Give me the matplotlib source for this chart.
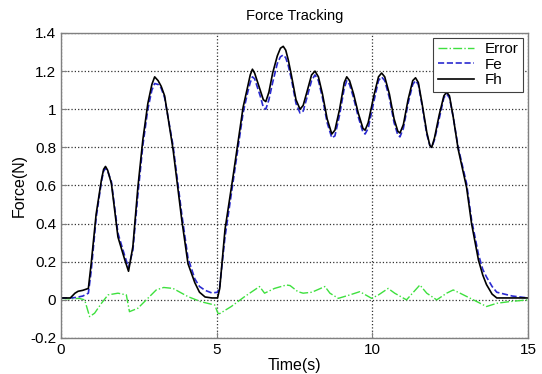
import numpy as np
import matplotlib
matplotlib.use('Agg')
import matplotlib.pyplot as plt
from matplotlib.ticker import FuncFormatter

#Data
t_f = [0, 0.3, 0.45, 0.55, 0.7, 0.88, 0.97, 1.13, 1.3, 1.37,
       1.43, 1.5, 1.62, 1.83, 2.05, 2.17, 2.31, 2.47, 2.63, 2.79,
       2.92, 3.01, 3.12, 3.22, 3.33, 3.6, 3.88, 4.08, 4.3, 4.45,
       4.63, 4.85, 5.03, 5.1, 5.27, 5.53, 5.85, 6.0, 6.08, 6.15,
       6.22, 6.3, 6.4, 6.5, 6.58, 6.68, 6.8, 6.95, 7.05, 7.14,
       7.22, 7.3, 7.4, 7.55, 7.68, 7.78, 7.9, 8.05, 8.16, 8.27,
       8.4, 8.55, 8.7, 8.8, 8.95, 9.1, 9.18, 9.27, 9.4, 9.55,
       9.7, 9.77, 9.87, 10.05, 10.2, 10.3, 10.4, 10.55, 10.7, 10.82,
       10.89, 11.0, 11.15, 11.3, 11.39, 11.48, 11.6, 11.75, 11.85, 11.91,
       12.0, 12.15, 12.3, 12.39, 12.48, 12.6, 12.76, 13.03, 13.19, 13.41,
       13.55, 13.67, 13.85, 14.0, 14.5, 15.0]
fh = [0.01, 0.01, 0.035, 0.045, 0.05, 0.06, 0.19, 0.45, 0.63, 0.685,
      0.70, 0.68, 0.61, 0.33, 0.21, 0.15, 0.28, 0.59, 0.84, 1.03,
      1.13, 1.17, 1.15, 1.12, 1.07, 0.79, 0.42, 0.19, 0.09, 0.04,
      0.015, 0.01, 0.01, 0.06, 0.37, 0.65, 1.01, 1.12, 1.18, 1.21,
      1.19, 1.15, 1.10, 1.05, 1.04, 1.09, 1.19, 1.28, 1.32, 1.33,
      1.31, 1.26, 1.18, 1.05, 1.0, 1.02, 1.09, 1.18, 1.2, 1.17,
      1.08, 0.95, 0.87, 0.89, 1.0, 1.14, 1.17, 1.15, 1.08, 0.98,
      0.9, 0.89, 0.93, 1.07, 1.17, 1.19, 1.17, 1.08, 0.95, 0.885,
      0.875, 0.92, 1.05, 1.15, 1.165, 1.14, 1.03, 0.88, 0.81, 0.80,
      0.85, 0.97, 1.07, 1.09, 1.07, 0.96, 0.79, 0.59, 0.40, 0.21,
      0.13, 0.08, 0.03, 0.01, 0.01, 0.01]
fe = [0.01, 0.01, 0.012, 0.015, 0.02, 0.035, 0.15, 0.43, 0.62, 0.675,
      0.69, 0.675, 0.62, 0.35, 0.23, 0.17, 0.26, 0.55, 0.81, 1.0,
      1.10, 1.135, 1.13, 1.11, 1.06, 0.81, 0.45, 0.22, 0.11, 0.07,
      0.05, 0.036, 0.04, 0.07, 0.33, 0.62, 0.98, 1.09, 1.14, 1.17,
      1.16, 1.12, 1.07, 1.01, 1.0, 1.05, 1.14, 1.24, 1.275, 1.285,
      1.27, 1.23, 1.16, 1.03, 0.98, 0.99, 1.06, 1.15, 1.18, 1.15,
      1.06, 0.93, 0.85, 0.86, 0.97, 1.11, 1.15, 1.13, 1.06, 0.96,
      0.88, 0.87, 0.9, 1.04, 1.15, 1.17, 1.15, 1.06, 0.93, 0.865,
      0.855, 0.9, 1.03, 1.13, 1.15, 1.13, 1.02, 0.87, 0.81, 0.80,
      0.84, 0.95, 1.06, 1.08, 1.06, 0.96, 0.80, 0.61, 0.42, 0.24,
      0.16, 0.12, 0.07, 0.04, 0.02, 0.01]

t_e = [0, 0.3, 0.58, 0.76, 0.92, 1.08, 1.3, 1.51, 1.83, 2.1, 2.2, 2.47, 2.74, 3.06, 3.3,
       3.6, 4.08, 4.5, 4.94, 5.04, 5.1, 5.47, 5.9, 6.38, 6.54, 6.86, 7.24, 7.36, 7.61, 7.78,
       8.06, 8.48, 8.64, 8.91, 9.28, 9.6, 9.98, 10.2, 10.51, 10.72, 11.1, 11.53, 11.75, 12.07, 12.39,
       12.6, 12.82, 13.25, 13.67, 14.0, 14.42, 15.0]
err = [0.008, 0.005, 0.008, 0.0, -0.088, -0.07, -0.018, 0.026, 0.035, 0.026, -0.062, -0.044, 0.0, 0.052, 0.065,
       0.06, 0.017, -0.01, -0.027, -0.07, -0.072, -0.035, 0.017, 0.07, 0.035, 0.06, 0.078, 0.075, 0.043, 0.035,
       0.04, 0.07, 0.035, 0.008, 0.026, 0.043, 0.008, 0.026, 0.06, 0.035, 0.0, 0.078, 0.035, 0.0, 0.035,
       0.052, 0.035, 0.0, -0.035, -0.018, -0.009, 0.0]

x_ticks = [0, 5, 10, 15]
y_ticks = [-0.2, 0, 0.2, 0.4, 0.6, 0.8, 1, 1.2, 1.4]

plt.rcParams['font.family'] = ['Liberation Sans', 'DejaVu Sans']
plt.rcParams['font.size'] = 10

fig = plt.figure(figsize=(5.42, 3.74), dpi=100)
ax = fig.add_axes([0.1125, 0.0963, 0.8615, 0.8155])

#Plot the three series
ax.plot(t_e, err, color='#3ee03e', linestyle='-.', linewidth=1.0, label='Error')
ax.plot(t_f, fe, color='#2a2ad0', linestyle='--', linewidth=1.2, label='Fe')
ax.plot(t_f, fh, color='black', linestyle='-', linewidth=1.2, label='Fh')

#Axes formatting, MATLAB style
ax.set_xlim(0, 15)
ax.set_ylim(-0.2, 1.4)
ax.set_xticks(x_ticks)
ax.set_yticks(y_ticks)
ax.yaxis.set_major_formatter(FuncFormatter(lambda v, p: '%g' % round(v, 2)))
ax.tick_params(direction='in', length=4, colors='#808080', labelcolor='black', labelsize=11)
for s in ax.spines.values():
    s.set_color('#808080')
    s.set_linewidth(1.0)
ax.grid(True, linestyle=':', color='#333333', linewidth=0.9)

ax.set_title('Force Tracking', fontsize=10.5, pad=9)
ax.set_xlabel('Time(s)', fontsize=11.5, labelpad=1)
ax.set_ylabel('Force(N)', fontsize=11.5, labelpad=2)

leg = ax.legend(loc='upper right', fontsize=11, handlelength=2.4, fancybox=False,
                framealpha=1, edgecolor='#404040', borderaxespad=0.3, borderpad=0.3,
                labelspacing=0.1, handletextpad=0.7)
leg.get_frame().set_linewidth(0.8)

fig.savefig('out.png', dpi=100)
